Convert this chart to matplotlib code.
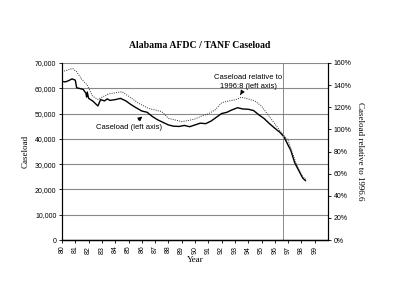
import numpy as np
import matplotlib
matplotlib.use('Agg')
import matplotlib.pyplot as plt
from matplotlib.ticker import FuncFormatter

# caseload (left axis)
case_year = [80.0, 80.25, 80.5, 80.75, 81.0, 81.1, 81.4, 81.6, 81.8, 81.85, 81.9, 82.0,
             82.3, 82.5, 82.7, 82.9, 83.2, 83.4, 83.6, 84.0, 84.4, 84.8, 85.2, 85.6,
             86.0, 86.4, 86.8, 87.2, 87.6, 88.0, 88.4, 88.8, 89.2, 89.6, 90.0, 90.4,
             90.8, 91.2, 91.6, 92.0, 92.4, 92.8, 93.2, 93.6, 94.0, 94.4, 94.8, 95.2,
             95.6, 96.0, 96.4, 96.7, 97.0, 97.2, 97.5, 97.8, 98.1, 98.3]
case_val = [62700, 62500, 63000, 63700, 63200, 60200, 59800, 59500, 58000, 56500, 58500, 56000,
            55000, 54000, 53000, 55500, 55000, 55800, 55200, 55500, 56000, 55000, 53500, 52200,
            51000, 50500, 48800, 47500, 46500, 45500, 45000, 44900, 45300, 44800, 45500, 46200,
            46000, 47000, 48500, 50000, 50500, 51500, 52300, 51800, 51700, 51200, 49500, 48000,
            46000, 44200, 42500, 40700, 37500, 35500, 30500, 27500, 24500, 23500]

# caseload relative to 1996:8 (right axis, percent)
rel_year = [80.0, 80.8, 81.1, 81.5, 81.9, 82.3, 82.7, 83.0, 83.5, 84.0, 84.5, 85.0,
            85.7, 86.5, 87.0, 87.5, 88.0, 88.5, 89.0, 89.5, 90.0, 90.5, 91.0, 91.5,
            92.0, 92.5, 93.0, 93.5, 94.0, 94.5, 95.0, 95.5, 96.0, 96.5, 97.0, 97.3,
            97.6, 98.0, 98.4]
rel_val = [152, 155, 152, 145, 140, 130, 127, 129, 132, 133, 134, 130,
           124, 119, 117.5, 116, 110, 108.5, 107, 108, 109.4, 112, 114, 117.5,
           124, 125.6, 126.6, 129, 127.5, 125.6, 121, 113, 105, 97, 90, 79.5,
           69.6, 58.8, 54]

year_ticks = list(range(80, 100))
ref_year = 96.6

fig = plt.figure(figsize=(4.0, 3.07), dpi=100)
ax = fig.add_axes([0.155, 0.218, 0.665, 0.577])
ax2 = ax.twinx()

ax.plot(case_year, case_val, color='black', lw=1.0)
ax2.plot(rel_year, rel_val, color='#333333', lw=0.7, ls=(0, (1, 1.3)))

ax.set_xlim(80, 100)
ax.set_ylim(0, 70000)
ax2.set_ylim(0, 160)
ax.set_yticks(np.arange(0, 70001, 10000))
ax2.set_yticks(np.arange(0, 161, 20))
ax.yaxis.set_major_formatter(FuncFormatter(lambda v, p: '{:,.0f}'.format(v)))
ax2.yaxis.set_major_formatter(FuncFormatter(lambda v, p: '%d%%' % v))
ax.set_xticks(year_ticks)
ax.set_xticklabels([str(y) for y in year_ticks], rotation=90)

for a in (ax, ax2):
    a.tick_params(labelsize=5, length=2, width=0.6, pad=2)
    for lab in a.get_xticklabels() + a.get_yticklabels():
        lab.set_family('Liberation Sans')
ax.grid(axis='y', color='#888888', lw=0.8)
ax.axvline(ref_year, color='#777777', lw=0.6)

for s in ['top']:
    ax.spines[s].set_visible(False)
    ax2.spines[s].set_visible(False)
ax.spines['left'].set_linewidth(0.8)
ax.spines['bottom'].set_linewidth(1.0)
ax2.spines['right'].set_linewidth(0.8)

serif = 'Liberation Serif'
fig.suptitle('Alabama AFDC / TANF Caseload', x=0.5, y=0.865, fontsize=7,
             fontweight='bold', family=serif)
ax.set_xlabel('Year', fontsize=6.5, family=serif, labelpad=2)
ax.set_ylabel('Caseload', fontsize=6.5, family=serif, labelpad=4)
ax2.set_ylabel('Caseload relative to 1996.6', fontsize=6.5, family=serif,
               rotation=270, labelpad=9)

ax.annotate('Caseload (left axis)', xy=(86.2, 49500), xytext=(85.0, 44300),
            fontsize=5.5, family='Liberation Sans', ha='center', va='center',
            arrowprops=dict(arrowstyle='-|>', color='black', lw=0.7,
                            mutation_scale=6))
ax2.annotate('Caseload relative to\n1996:8 (left axis)', xy=(93.3, 129),
             xytext=(94.0, 143), fontsize=5.5, family='Liberation Sans',
             ha='center', va='center', linespacing=1.3,
             arrowprops=dict(arrowstyle='-|>', color='black', lw=0.7,
                             mutation_scale=6))

fig.savefig('out.png', dpi=100)
